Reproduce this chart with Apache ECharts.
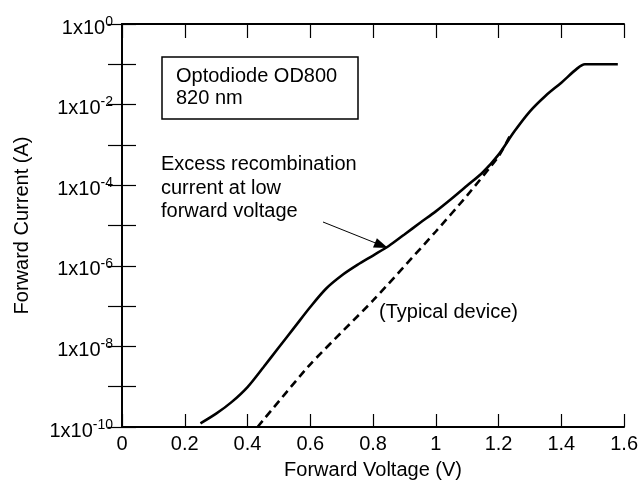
<!DOCTYPE html>
<html>
<head>
<meta charset="utf-8">
<script src="https://cdn.jsdelivr.net/npm/echarts@6/dist/echarts.min.js"></script>
<style>
html,body{margin:0;padding:0;background:#fff;}
#chart{width:641px;height:485px;}
</style>
</head>
<body>
<div id="chart"></div>
<script>
// Measured device (solid): forward voltage (V) and forward current (A)
const measuredVoltage = [0.25, 0.30, 0.35, 0.40, 0.45, 0.50, 0.55, 0.60, 0.65, 0.70, 0.75, 0.80, 0.85, 0.90, 0.95, 1.00, 1.05, 1.10, 1.15, 1.20, 1.25, 1.30, 1.35, 1.40, 1.45, 1.475, 1.58];
const measuredCurrent = [1.23e-10, 2.14e-10, 4.2e-10, 9.8e-10, 3.0e-9, 9.5e-9, 3.0e-8, 9.5e-8, 2.7e-7, 5.75e-7, 1.05e-6, 1.8e-6, 3.1e-6, 6.0e-6, 1.17e-5, 2.24e-5, 4.6e-5, 9.8e-5, 2.1e-4, 5.75e-4, 2.14e-3, 6.8e-3, 1.66e-2, 3.5e-2, 7.8e-2, 0.1, 0.1];
// Typical device (dashed)
const typicalVoltage = [0.432, 0.60, 0.80, 1.00, 1.10, 1.20, 1.235];
const typicalCurrent = [1e-10, 3.6e-9, 1.38e-7, 7.1e-6, 5.6e-5, 5.2e-4, 1.6e-3];
// Axis tick values
const xTicks = [0, 0.2, 0.4, 0.6, 0.8, 1, 1.2, 1.4, 1.6];
const yLabelExponents = [0, -2, -4, -6, -8, -10];

const FONT = 'Arial, "Liberation Sans", sans-serif';
const FS = 20;
const chart = echarts.init(document.getElementById('chart'));

const zip = (xs, ys) => xs.map((x, i) => [x, ys[i]]);

const tickCommon = {inside: true, length: 14, lineStyle: {color: '#000', width: 1.2}};
const axisLineCommon = {show: true, lineStyle: {color: '#000', width: 1.8}};

const option = {
  animation: false,
  backgroundColor: '#fff',
  grid: {left: 122, right: 14, top: 24, bottom: 51, containLabel: false},
  xAxis: [{
    type: 'value', min: xTicks[0], max: xTicks[xTicks.length - 1], interval: 0.2,
    position: 'bottom',
    axisLine: axisLineCommon, axisTick: Object.assign({}, tickCommon, {length: 13}),
    splitLine: {show: false},
    axisLabel: {color: '#000', fontFamily: FONT, fontSize: FS, margin: 7,
      formatter: v => String(Math.round(v * 10) / 10)},
    name: 'Forward Voltage (V)', nameLocation: 'middle', nameGap: 33,
    nameTextStyle: {color: '#000', fontFamily: FONT, fontSize: FS}
  }, {
    type: 'value', min: xTicks[0], max: xTicks[xTicks.length - 1], interval: 0.2,
    position: 'top',
    axisLine: axisLineCommon, axisTick: tickCommon,
    axisLabel: {show: false}, splitLine: {show: false}
  }],
  yAxis: [{
    type: 'log', logBase: 10, min: 1e-10, max: 1, interval: 1, splitNumber: 10,
    position: 'left',
    axisLine: axisLineCommon, axisTick: tickCommon, splitLine: {show: false},
    axisLabel: {
      color: '#000', fontFamily: FONT, margin: 9, padding: [8, 0, 0, 0],
      formatter: function (v) {
        const e = Math.round(Math.log10(v));
        if (yLabelExponents.indexOf(e) < 0) return '';
        return '{b|1x10}{s|' + e + '}';
      },
      rich: {
        b: {fontFamily: FONT, fontSize: FS, color: '#000', lineHeight: 26, verticalAlign: 'middle'},
        s: {fontFamily: FONT, fontSize: 14, color: '#000', lineHeight: 15, verticalAlign: 'top'}
      }
    },
    name: 'Forward Current (A)', nameLocation: 'middle', nameGap: 90, nameRotate: 90,
    nameTextStyle: {color: '#000', fontFamily: FONT, fontSize: FS}
  }, {
    type: 'log', logBase: 10, min: 1e-10, max: 1, interval: 1, splitNumber: 10,
    position: 'right',
    axisLine: axisLineCommon, axisTick: tickCommon, splitLine: {show: false},
    axisLabel: {show: false}
  }],
  series: [{
    type: 'line', name: 'Measured', xAxisIndex: 0, yAxisIndex: 0,
    data: zip(measuredVoltage, measuredCurrent),
    showSymbol: false, smooth: 0.3,
    lineStyle: {color: '#000', width: 2.6}
  }, {
    type: 'line', name: 'Typical', xAxisIndex: 0, yAxisIndex: 0,
    data: zip(typicalVoltage, typicalCurrent),
    showSymbol: false, smooth: 0.2,
    lineStyle: {color: '#000', width: 2.6, type: [8, 5]}
  }],
  graphic: [
    {type: 'rect', shape: {x: 162, y: 57, width: 196, height: 62},
      style: {fill: '#fff', stroke: '#000', lineWidth: 1.5}, z: 10},
    {type: 'text', x: 176, y: 65, z: 11,
      style: {text: 'Optodiode OD800\n820 nm', font: FS + 'px ' + FONT, fill: '#000', lineHeight: 22}},
    {type: 'text', x: 161, y: 153, z: 11,
      style: {text: 'Excess recombination\ncurrent at low\nforward voltage', font: FS + 'px ' + FONT, fill: '#000', lineHeight: 23.5}},
    {type: 'line', shape: {x1: 323, y1: 222, x2: 377, y2: 243.6},
      style: {stroke: '#000', lineWidth: 1}, z: 11},
    {type: 'polygon', shape: {points: [[388, 248], [373, 247.4], [376.9, 238.2]]},
      style: {fill: '#000'}, z: 11},
    {type: 'text', x: 379, y: 300, z: 11,
      style: {text: '(Typical device)', font: FS + 'px ' + FONT, fill: '#000', lineHeight: 24}}
  ]
};
chart.setOption(option);
</script>
</body>
</html>
